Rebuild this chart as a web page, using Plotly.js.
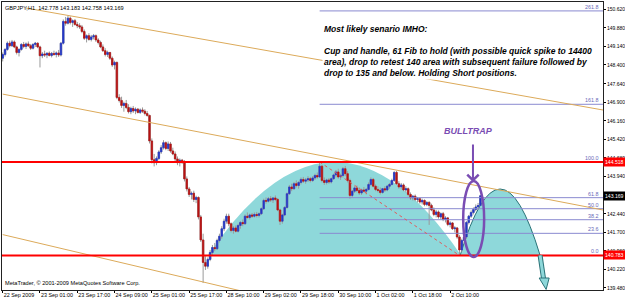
<!DOCTYPE html>
<html><head><meta charset="utf-8">
<script src="https://cdn.plot.ly/plotly-3.0.1.min.js"></script>
<style>html,body{margin:0;padding:0;background:#fff}#chart{width:625px;height:300px}</style>
</head><body><div id="chart"></div>
<script>
// ---------- data ----------
const symbolHeader = "GBPJPY,H1  142.778 143.183 142.758 143.169";
const copyrightText = "MetaTrader, \u00a9 2001-2009 MetaQuotes Software Corp.";
const timeTickIdx = [0,16,32,48,64,80,96,112,128,144,160,176,192];
const timeTickText = ["22 Sep 2009","23 Sep 01:00","23 Sep 17:00","24 Sep 09:00","25 Sep 01:00","25 Sep 17:00","28 Sep 10:00","29 Sep 02:00","29 Sep 18:00","30 Sep 10:00","1 Oct 02:00","1 Oct 18:00","2 Oct 10:00"];
const priceTicks = [150.62,149.88,149.14,148.40,147.64,146.90,146.16,145.42,144.68,143.94,143.18,142.44,141.70,140.96,140.22,139.48];
const priceTickText = ["150.620","149.880","149.140","148.400","147.640","146.900","146.160","145.420","144.680","143.940","","142.440","141.700","140.960","140.220","139.480"];

const openP = [148.67,148.82,149.02,149.27,149.17,149.32,149.12,148.90,149.02,149.22,149.14,149.24,149.17,149.07,149.22,149.27,149.12,148.77,148.84,148.80,
148.87,148.78,148.86,148.82,148.88,148.80,149.27,150.14,150.07,150.27,150.10,150.17,150.02,149.97,149.92,149.74,149.47,149.57,149.42,149.52,
149.57,149.40,149.30,149.12,148.97,148.82,148.90,148.67,148.40,148.50,147.10,146.98,146.78,146.86,146.70,146.53,146.66,146.56,146.63,146.50,
146.60,146.55,146.46,146.38,145.36,144.61,144.49,144.66,144.92,145.09,145.29,145.06,145.24,144.96,144.84,144.64,144.49,144.59,144.54,143.84,
143.44,143.22,143.27,143.02,143.10,142.32,141.40,140.50,140.35,140.62,140.90,141.10,141.05,141.38,141.55,141.85,142.15,142.35,142.05,141.78,
141.88,141.75,141.98,142.10,142.05,142.35,142.30,142.40,142.35,142.42,142.38,142.45,142.65,142.98,142.95,143.05,143.00,143.08,143.02,142.60,
142.15,142.40,142.70,143.25,143.52,143.45,143.65,143.58,143.70,143.82,143.75,143.80,143.85,143.78,143.88,143.98,143.92,144.35,143.78,143.70,
143.80,143.72,143.85,144.00,144.12,143.92,143.98,144.25,144.05,143.78,143.18,143.35,143.48,143.38,143.28,143.40,143.35,143.42,143.62,143.82,
143.55,143.42,143.38,143.30,143.45,143.40,143.55,143.62,143.78,144.10,143.65,143.52,143.60,143.40,143.45,143.22,143.08,143.15,143.02,143.05,
142.92,142.98,142.82,142.90,142.78,142.60,142.42,142.52,142.32,142.45,142.22,142.28,142.02,142.08,141.85,141.88,141.52,141.00,141.38,141.52,
142.10,142.35,142.50,142.62,142.72,142.778];
const highP = [148.90,149.07,149.34,149.37,149.40,149.38,149.17,149.07,149.27,149.32,149.30,149.34,149.24,149.27,149.32,149.30,149.17,148.92,148.97,148.90,
148.94,148.92,148.97,148.94,149.00,149.32,150.22,150.32,150.37,150.34,150.22,150.24,150.12,150.07,150.00,149.82,149.62,149.67,149.60,149.64,
149.62,149.47,149.37,149.22,149.07,148.97,148.92,148.74,148.57,148.54,147.23,147.13,146.93,147.00,146.83,146.73,146.76,146.70,146.68,146.66,
146.70,146.63,146.56,146.41,145.46,144.84,144.74,144.99,145.19,145.39,145.34,145.34,145.32,145.09,144.94,144.74,144.66,144.64,144.59,143.94,
143.52,143.34,143.37,143.17,143.14,142.40,141.65,140.75,140.70,141.00,141.20,141.28,141.45,141.65,141.95,142.25,142.45,142.45,142.10,141.95,
141.98,142.05,142.15,142.22,142.42,142.50,142.45,142.48,142.50,142.52,142.50,142.70,143.05,143.10,143.12,143.15,143.12,143.18,143.08,142.65,
142.45,142.75,143.30,143.60,143.65,143.72,143.78,143.75,143.90,143.92,143.88,143.95,143.92,143.95,144.05,144.10,144.518,144.40,143.90,143.85,
143.88,143.90,144.05,144.20,144.25,144.05,144.32,144.36,144.15,143.85,143.40,143.55,143.58,143.50,143.45,143.52,143.48,143.70,143.90,143.88,
143.62,143.55,143.50,143.48,143.55,143.60,143.68,143.85,144.15,144.16,143.75,143.68,143.66,143.55,143.50,143.30,143.20,143.22,143.12,143.10,
143.05,143.02,142.95,142.95,142.85,142.70,142.60,142.58,142.50,142.52,142.35,142.32,142.15,142.12,141.95,141.92,141.60,141.45,141.60,142.15,
142.40,142.58,142.70,142.82,142.88,143.183];
const lowP = [148.54,148.74,148.97,149.10,149.12,149.07,148.82,148.74,148.97,149.07,149.04,149.12,149.00,149.02,149.12,149.07,148.30,148.67,148.72,148.67,
148.74,148.70,148.77,148.70,148.72,148.74,149.22,149.97,150.02,150.02,149.92,149.97,149.87,149.84,149.67,149.40,149.30,149.37,149.34,149.42,
149.32,149.22,149.07,148.92,148.74,148.72,148.60,148.32,148.22,147.03,146.90,146.68,146.53,146.63,146.46,146.43,146.48,146.43,146.46,146.44,
146.48,146.38,146.33,145.26,144.46,144.34,144.39,144.59,144.84,145.02,144.99,144.96,144.89,144.79,144.54,144.39,144.34,144.44,143.74,143.34,
143.12,143.02,142.92,142.87,142.22,141.32,139.68,140.20,140.25,140.55,140.80,140.95,141.00,141.30,141.45,141.75,142.05,141.95,141.70,141.65,
141.70,141.70,141.85,141.95,142.00,142.25,142.22,142.28,142.30,142.30,142.30,142.40,142.60,142.85,142.90,142.92,142.88,142.95,142.55,142.00,
142.05,142.35,142.65,143.20,143.35,143.40,143.50,143.45,143.62,143.68,143.65,143.72,143.70,143.72,143.80,143.85,143.88,143.70,143.60,143.62,
143.65,143.66,143.80,143.90,143.85,143.80,143.90,143.95,143.70,143.05,143.10,143.28,143.30,143.20,143.20,143.30,143.22,143.38,143.55,143.50,
143.35,143.30,143.22,143.25,143.32,143.35,143.45,143.58,143.72,143.60,143.45,143.42,143.35,143.30,143.15,143.00,142.98,142.95,142.90,142.85,
142.82,142.75,142.75,142.00,142.55,142.35,142.30,142.25,142.22,142.15,142.10,141.95,141.90,141.80,141.70,141.45,140.783,140.92,141.28,141.45,
142.02,142.28,142.42,142.55,142.60,142.758];
const closeP = [148.82,149.02,149.27,149.17,149.32,149.12,148.90,149.02,149.22,149.14,149.24,149.17,149.07,149.22,149.27,149.12,148.77,148.84,148.80,148.87,
148.78,148.86,148.82,148.88,148.80,149.27,150.14,150.07,150.27,150.10,150.17,150.02,149.97,149.92,149.74,149.47,149.57,149.42,149.52,149.57,
149.40,149.30,149.12,148.97,148.82,148.90,148.67,148.40,148.50,147.10,146.98,146.78,146.86,146.70,146.53,146.66,146.56,146.63,146.50,146.60,
146.55,146.46,146.38,145.36,144.61,144.49,144.66,144.92,145.09,145.29,145.06,145.24,144.96,144.84,144.64,144.49,144.59,144.54,143.84,143.44,
143.22,143.27,143.02,143.10,142.32,141.40,140.50,140.35,140.62,140.90,141.10,141.05,141.38,141.55,141.85,142.15,142.35,142.05,141.78,141.88,
141.75,141.98,142.10,142.05,142.35,142.30,142.40,142.35,142.42,142.38,142.45,142.65,142.98,142.95,143.05,143.00,143.08,143.02,142.60,142.15,
142.40,142.70,143.25,143.52,143.45,143.65,143.58,143.70,143.82,143.75,143.80,143.85,143.78,143.88,143.98,143.92,144.35,143.78,143.70,143.80,
143.72,143.85,144.00,144.12,143.92,143.98,144.25,144.05,143.78,143.18,143.35,143.48,143.38,143.28,143.40,143.35,143.42,143.62,143.82,143.55,
143.42,143.38,143.30,143.45,143.40,143.55,143.62,143.78,144.10,143.65,143.52,143.60,143.40,143.45,143.22,143.08,143.15,143.02,143.05,142.92,
142.98,142.82,142.90,142.78,142.60,142.42,142.52,142.32,142.45,142.22,142.28,142.02,142.08,141.85,141.88,141.52,141.00,141.38,141.52,142.10,
142.35,142.50,142.62,142.72,142.778,143.169];

// horizontal levels and Fibonacci
const resistance = 144.518, support = 140.783, lastPrice = 143.169;
const fibHighIdx = 136, fibLowIdx = 196;
const fibLevels = [0, 23.6, 38.2, 50.0, 61.8, 100.0, 161.8, 261.8];
const fibLabels = ["0.0","23.6","38.2","50.0","61.8","100.0","161.8","261.8"];

// trend lines (bar index, price)
const trendUpperIdx = [10, 257.6],  trendUpperPrice = [150.678, 146.598];
const trendMidIdx   = [0, 257.6],   trendMidPrice   = [147.234, 142.598];
const trendLowIdx   = [0, 110],     trendLowPrice   = [141.614, 139.191];

// drawings: cup, projected handle, arrow, ellipse
const cupIdx = [88.1, 142.4, 196.7];           // left foot, top, right foot
const handleIdx = [196.3, 213.45, 230.6];
const handleTopPrice = 143.438;
const shaftIdx = [230.6, 232.1], shaftPrice = [140.783, 139.84];
const headIdx = [230.2, 233.2, 234.5], headPrice = [139.878, 139.42, 139.878];
const ellipseIdx = [197.6, 206.6], ellipsePrice = [140.718, 143.758];
const bullArrowIdx = 201.8, bullArrowPrice = 143.718;
const bullLabelIdx = 199.7, bullLabelPrice = 145.758;
const scenarioLines = ["Most likely senario IMHO:", "", "Cup and handle, 61 Fib to hold (with possible quick spike to 14400",
  "area), drop to retest 140 area with subsequent failure followed by", "drop to 135 and below. Holding Short positions."];

// ---------- styling ----------
const X_MAX = 257.6;
const F = "Liberation Sans, Arial, sans-serif";
const ORANGE = "#dcaa5a", RED = "#ff0000", FIB = "#8a8ad0", CYAN = "#8ed8da", TEAL = "#2b7378", PURPLE = "#7a4db3";
const BULL = "#2438c8", BEAR = "#b81212", WICK = "#9a9a9a";

const barX = openP.map((_, i) => i);
const bodyTop = openP.map((o, i) => Math.max(o, closeP[i]));
const bodyBot = openP.map((o, i) => Math.min(o, closeP[i]));
const fibPrice = fibLevels.map(l => support + l / 100 * (resistance - support));

const traces = [];
// wicks + outline
traces.push({type:'candlestick', x: barX, open: openP, high: highP, low: lowP, close: closeP,
  increasing:{line:{color:WICK, width:1}, fillcolor:WICK},
  decreasing:{line:{color:WICK, width:1}, fillcolor:WICK},
  whiskerwidth:0, hoverinfo:'skip', showlegend:false});
// coloured bodies
traces.push({type:'candlestick', x: barX, open: openP, high: bodyTop, low: bodyBot, close: closeP,
  increasing:{line:{color:BULL, width:0.6}, fillcolor:BULL},
  decreasing:{line:{color:BEAR, width:0.6}, fillcolor:BEAR},
  whiskerwidth:0, hoverinfo:'skip', showlegend:false});
// fib lines
fibPrice.forEach(p => traces.push({type:'scatter', mode:'lines', x:[fibHighIdx, X_MAX], y:[p, p],
  line:{color:FIB, width:1}, hoverinfo:'skip', showlegend:false}));
// fib diagonal
traces.push({type:'scatter', mode:'lines', x:[fibHighIdx, fibLowIdx], y:[resistance, support],
  line:{color:'#e05a5a', width:1, dash:'dot'}, hoverinfo:'skip', showlegend:false});
// trend lines
[[trendUpperIdx,trendUpperPrice],[trendMidIdx,trendMidPrice],[trendLowIdx,trendLowPrice]].forEach(([xs,ys]) =>
  traces.push({type:'scatter', mode:'lines', x:xs, y:ys, line:{color:ORANGE, width:1}, hoverinfo:'skip', showlegend:false}));

const cupCtrl = 2 * resistance - support;
const handleCtrl = 2 * handleTopPrice - support;
const shapes = [
  {type:'path', layer:'below', xref:'x', yref:'y',
   path:`M ${cupIdx[0]},${support} Q ${cupIdx[1]},${cupCtrl} ${cupIdx[2]},${support} Z`,
   fillcolor:CYAN, line:{width:0}},
  {type:'path', layer:'below', xref:'x', yref:'y',
   path:`M ${handleIdx[0]},${support} Q ${handleIdx[1]},${handleCtrl} ${handleIdx[2]},${support} Z`,
   fillcolor:CYAN, line:{color:TEAL, width:1}},
  {type:'line', xref:'paper', yref:'y', x0:0, x1:1, y0:resistance, y1:resistance, line:{color:RED, width:2}},
  {type:'line', xref:'paper', yref:'y', x0:0, x1:1, y0:support, y1:support, line:{color:RED, width:2}},
  {type:'line', xref:'x', yref:'y', x0:shaftIdx[0], x1:shaftIdx[1], y0:shaftPrice[0], y1:shaftPrice[1], line:{color:TEAL, width:5}},
  {type:'line', xref:'x', yref:'y', x0:shaftIdx[0], x1:shaftIdx[1], y0:shaftPrice[0], y1:shaftPrice[1], line:{color:CYAN, width:3}},
  {type:'path', xref:'x', yref:'y',
   path:`M ${headIdx[0]},${headPrice[0]} L ${headIdx[1]},${headPrice[1]} L ${headIdx[2]},${headPrice[2]} Z`,
   fillcolor:CYAN, line:{color:TEAL, width:1}},
  {type:'circle', xref:'x', yref:'y', x0:ellipseIdx[0], x1:ellipseIdx[1], y0:ellipsePrice[0], y1:ellipsePrice[1],
   line:{color:PURPLE, width:2.5}}
];

const small = {family:F, size:5.6, color:'#000'};
const annotations = [
  {xref:'paper', yref:'paper', x:0, y:1, xanchor:'left', yanchor:'top', xshift:1, yshift:-1,
   text:symbolHeader, showarrow:false, font:small},
  {xref:'paper', yref:'paper', x:0, y:0, xanchor:'left', yanchor:'bottom', xshift:1, yshift:2,
   text:copyrightText, showarrow:false, font:small},
  {xref:'paper', yref:'paper', x:0.5324, y:0.93, xanchor:'left', yanchor:'top', align:'left',
   text:scenarioLines.join('<br>'), showarrow:false, bgcolor:'#ffffff', borderpad:1,
   font:{family:F, size:8.5, color:'#000', weight:'bold', style:'italic'}},
  {xref:'x', yref:'y', x:bullLabelIdx, y:bullLabelPrice, text:'BULLTRAP', showarrow:false,
   font:{family:F, size:9, color:PURPLE, weight:'bold', style:'italic'}},
  {xref:'x', yref:'y', x:bullArrowIdx, y:bullArrowPrice, text:'', showarrow:true, ax:0, ay:-39,
   arrowhead:4, arrowsize:1.1, arrowwidth:2, arrowcolor:PURPLE}
];
fibPrice.forEach((p, i) => annotations.push({xref:'paper', yref:'y', x:1, y:p, xanchor:'right', yanchor:'bottom',
  xshift:-2, yshift:-1, text:fibLabels[i], showarrow:false, font:{family:F, size:5.4, color:'#6a6ab8'}}));
[[resistance, RED], [support, RED], [lastPrice, '#000']].forEach(([p, c]) => annotations.push({
  xref:'paper', yref:'y', x:1, y:p, xanchor:'left', yanchor:'middle', xshift:0,
  text:p.toFixed(3), showarrow:false, bgcolor:c, borderpad:1, font:{family:F, size:5.1, color:'#fff'}}));

const layout = {
  width:625, height:300, margin:{l:2, r:22, t:2, b:10},
  paper_bgcolor:'#fff', plot_bgcolor:'#fff', showlegend:false, boxgap:0.1,
  font:{family:F, size:5.6, color:'#000'},
  xaxis:{type:'linear', range:[-0.3, X_MAX], rangeslider:{visible:false}, showgrid:false, zeroline:false,
    tickmode:'array', tickvals:timeTickIdx, ticktext:timeTickText, ticks:'outside', ticklen:2, tickcolor:'#000',
    tickangle:0, ticklabelposition:'outside right', ticklabelstandoff:0, tickfont:{family:F, size:5.4, color:'#000'},
    showline:true, mirror:true, linecolor:'#222', linewidth:1, fixedrange:true},
  yaxis:{range:[139.398, 150.918], side:'right', showgrid:false, zeroline:false,
    tickmode:'array', tickvals:priceTicks, ticktext:priceTickText,
    ticks:'outside', ticklen:2, tickcolor:'#000', ticklabelstandoff:0,
    tickfont:{family:F, size:5.0, color:'#000'},
    showline:true, mirror:true, linecolor:'#222', linewidth:1, fixedrange:true},
  shapes: shapes, annotations: annotations
};
Plotly.newPlot('chart', traces, layout, {displayModeBar:false, staticPlot:true});
</script></body></html>
